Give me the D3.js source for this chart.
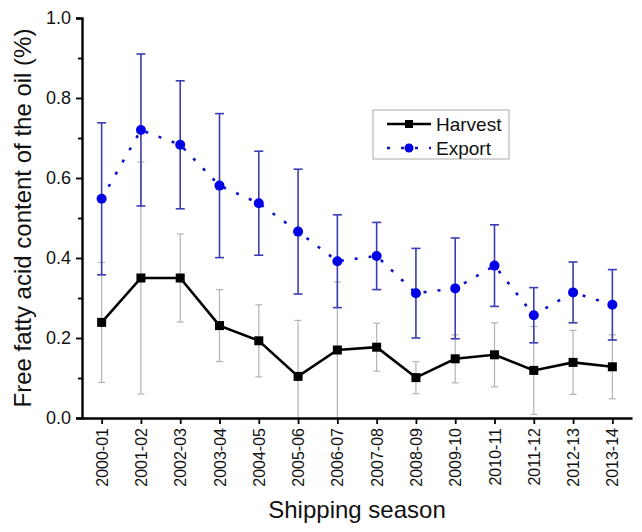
<!DOCTYPE html>
<html>
<head>
<meta charset="utf-8">
<script src="https://cdn.jsdelivr.net/npm/d3@7"></script>
<style>
    body { margin: 0; background: #fff; }
    svg { display: block; font-family: "Liberation Sans", Arial, sans-serif; }
</style>
</head>
<body>
<div id="chart"></div>
<script>
'use strict';

// ##################################################
// #  Data                                          #
// ##################################################

let seasons = ['2000-01', '2001-02', '2002-03', '2003-04', '2004-05', '2005-06', '2006-07',
    '2007-08', '2008-09', '2009-10', '2010-11', '2011-12', '2012-13', '2013-14'];

let harvestMean = [0.239, 0.35, 0.35, 0.231, 0.193, 0.104, 0.17, 0.177, 0.101, 0.148, 0.158, 0.119, 0.139, 0.128];
let harvestSd = [0.15, 0.29, 0.11, 0.09, 0.09, 0.14, 0.17, 0.06, 0.04, 0.06, 0.08, 0.11, 0.08, 0.08];

let exportMean = [0.548, 0.72, 0.683, 0.581, 0.537, 0.466, 0.392, 0.405, 0.312, 0.324, 0.381, 0.257, 0.314, 0.283];
let exportSd = [0.19, 0.19, 0.16, 0.18, 0.13, 0.156, 0.116, 0.084, 0.112, 0.126, 0.102, 0.069, 0.076, 0.088];

let yTicks = [0, 0.2, 0.4, 0.6, 0.8, 1.0];
let yMinorTicks = [0.1, 0.3, 0.5, 0.7, 0.9];

// ##################################################
// #  Chart                                         #
// ##################################################

let width = 642, height = 532;
let margin = {top: 18, right: 10, bottom: 114, left: 82};

let svg = d3.select('#chart').append('svg')
    .attr('width', width)
    .attr('height', height);

svg.append('rect').attr('width', width).attr('height', height).attr('fill', '#fff');

let x = d3.scalePoint()
    .domain(seasons)
    .range([margin.left, width - margin.right])
    .padding(0.5);

let y = d3.scaleLinear()
    .domain([0, 1])
    .range([height - margin.bottom, margin.top])
    .clamp(true);

let harvest = seasons.map((s, i) => ({season: s, v: harvestMean[i], sd: harvestSd[i]}));
let exported = seasons.map((s, i) => ({season: s, v: exportMean[i], sd: exportSd[i]}));

function errorBars(data, color, strokeWidth, capHalf) {
    let g = svg.append('g')
        .attr('stroke', color)
        .attr('stroke-width', strokeWidth)
        .attr('fill', 'none');
    g.selectAll('.stem').data(data).enter().append('line')
        .attr('x1', d => x(d.season)).attr('x2', d => x(d.season))
        .attr('y1', d => y(d.v - d.sd)).attr('y2', d => y(d.v + d.sd));
    g.selectAll('.capTop').data(data).enter().append('line')
        .attr('x1', d => x(d.season) - capHalf).attr('x2', d => x(d.season) + capHalf)
        .attr('y1', d => y(d.v + d.sd)).attr('y2', d => y(d.v + d.sd));
    g.selectAll('.capBottom').data(data.filter(d => d.v - d.sd > 0)).enter().append('line')
        .attr('x1', d => x(d.season) - capHalf).attr('x2', d => x(d.season) + capHalf)
        .attr('y1', d => y(d.v - d.sd)).attr('y2', d => y(d.v - d.sd));
}

errorBars(harvest, '#b4b4b4', 1.2, 3.5);
errorBars(exported, '#3c3cb4', 1.6, 4.5);

let line = d3.line()
    .x(d => x(d.season))
    .y(d => y(d.v));

svg.append('path')
    .datum(exported)
    .attr('d', line)
    .attr('fill', 'none')
    .attr('stroke', '#1010c8')
    .attr('stroke-width', 2.6)
    .attr('stroke-dasharray', '3,11');

svg.append('path')
    .datum(harvest)
    .attr('d', line)
    .attr('fill', 'none')
    .attr('stroke', '#000')
    .attr('stroke-width', 2.6);

svg.selectAll('.square').data(harvest).enter().append('rect')
    .attr('x', d => x(d.season) - 4.5)
    .attr('y', d => y(d.v) - 4.5)
    .attr('width', 9)
    .attr('height', 9)
    .attr('fill', '#000');

svg.selectAll('.dot').data(exported).enter().append('circle')
    .attr('cx', d => x(d.season))
    .attr('cy', d => y(d.v))
    .attr('r', 5)
    .attr('fill', '#0000e6');

// axes
let yAxis = svg.append('g')
    .attr('transform', `translate(${margin.left},0)`)
    .call(d3.axisLeft(y).tickValues(yTicks).tickFormat(d3.format('.1f')).tickSize(6).tickPadding(5));
yAxis.selectAll('text').attr('font-size', 18).attr('fill', '#111');

svg.append('g')
    .attr('transform', `translate(${margin.left},0)`)
    .call(d3.axisLeft(y).tickValues(yMinorTicks).tickFormat('').tickSize(4))
    .select('.domain').remove();

let xAxis = svg.append('g')
    .attr('transform', `translate(0,${height - margin.bottom})`)
    .call(d3.axisBottom(x).tickSize(6).tickSizeOuter(0));
xAxis.selectAll('text')
    .attr('font-size', 16)
    .attr('fill', '#111')
    .attr('text-anchor', 'end')
    .attr('x', 0)
    .attr('y', 0)
    .attr('dy', '0.35em')
    .attr('transform', 'translate(0,10) rotate(-90)');

svg.selectAll('.domain').attr('stroke-width', 2.4);
svg.selectAll('.tick line').attr('stroke-width', 1.8);

// axis titles
svg.append('text')
    .attr('transform', 'translate(31,218) rotate(-90)')
    .attr('text-anchor', 'middle')
    .attr('font-size', 24)
    .attr('fill', '#111')
    .text('Free fatty acid content of the oil (%)');

svg.append('text')
    .attr('x', 357)
    .attr('y', 518)
    .attr('text-anchor', 'middle')
    .attr('font-size', 24)
    .attr('fill', '#111')
    .text('Shipping season');

// legend
let legend = svg.append('g').attr('transform', 'translate(373,110)');
legend.append('rect')
    .attr('width', 136).attr('height', 49)
    .attr('fill', '#fff').attr('stroke', '#aaa').attr('stroke-width', 1);

legend.append('line')
    .attr('x1', 14).attr('x2', 58).attr('y1', 14).attr('y2', 14)
    .attr('stroke', '#000').attr('stroke-width', 2.6);
legend.append('rect')
    .attr('x', 32).attr('y', 10).attr('width', 8).attr('height', 8).attr('fill', '#000');
legend.append('text')
    .attr('x', 63).attr('y', 21).attr('font-size', 19).attr('fill', '#111')
    .text('Harvest');

legend.append('line')
    .attr('x1', 14).attr('x2', 58).attr('y1', 38).attr('y2', 38)
    .attr('stroke', '#1010c8').attr('stroke-width', 2.6).attr('stroke-dasharray', '3,11');
legend.append('circle')
    .attr('cx', 36).attr('cy', 38).attr('r', 4.5).attr('fill', '#0000e6');
legend.append('text')
    .attr('x', 63).attr('y', 45).attr('font-size', 19).attr('fill', '#111')
    .text('Export');
</script>
</body>
</html>
